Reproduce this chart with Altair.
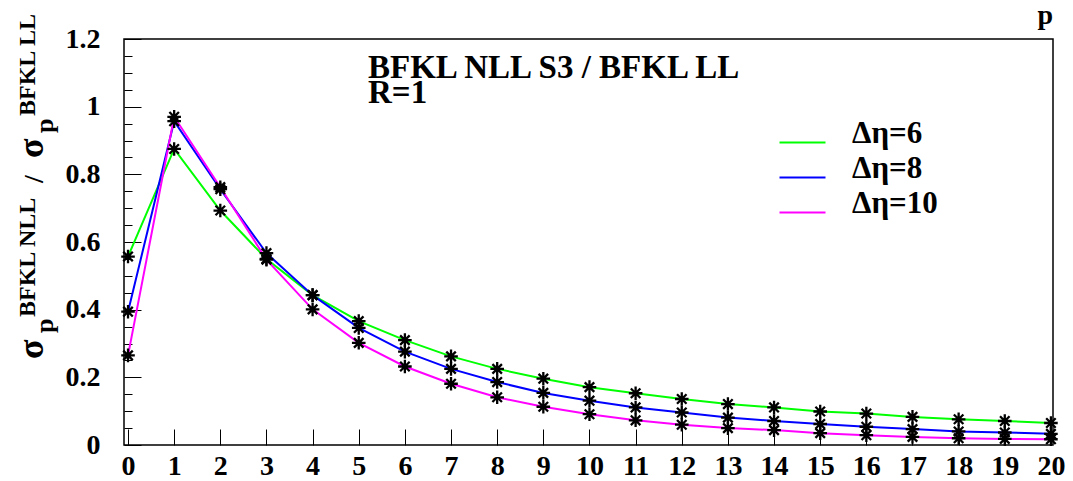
import altair as alt
import pandas as pd

# ---------------- data ----------------
p_values = list(range(21))
series_names = ["Δη=6", "Δη=8", "Δη=10"]
series_colors = ["#00ff00", "#0000ff", "#ff00ff"]
eta6 = [0.557, 0.875, 0.693, 0.550, 0.443, 0.366, 0.310, 0.262, 0.225, 0.196, 0.171,
        0.153, 0.136, 0.121, 0.111, 0.099, 0.093, 0.083, 0.076, 0.071, 0.065]
eta8 = [0.394, 0.957, 0.756, 0.567, 0.443, 0.346, 0.276, 0.225, 0.186, 0.154, 0.131,
        0.111, 0.096, 0.081, 0.071, 0.062, 0.054, 0.047, 0.040, 0.037, 0.033]
eta10 = [0.265, 0.970, 0.762, 0.548, 0.401, 0.302, 0.232, 0.181, 0.141, 0.113, 0.091,
         0.073, 0.060, 0.050, 0.044, 0.035, 0.029, 0.024, 0.020, 0.018, 0.017]
x_ticks = list(range(21))
y_major = [0, 0.2, 0.4, 0.6, 0.8, 1.0, 1.2]
y_minor = [0.05, 0.1, 0.15, 0.25, 0.3, 0.35, 0.45, 0.5, 0.55, 0.65, 0.7, 0.75,
           0.85, 0.9, 0.95, 1.05, 1.1, 1.15]
title_lines = ["BFKL NLL S3 / BFKL LL", "R=1"]
x_title = "p"

rows = []
for name, vals in zip(series_names, [eta6, eta8, eta10]):
    for p, v in zip(p_values, vals):
        rows.append({"p": p, "ratio": v, "series": name})
df = pd.DataFrame(rows)
anno = pd.DataFrame({"k": [0]})

FONT = "Liberation Serif, DejaVu Serif, serif"
W, H = 929, 406
xscale = alt.Scale(domain=[-0.087, 20.045], nice=False, zero=False)
yscale = alt.Scale(domain=[0, 1.2], nice=False)

label_style = dict(labelFont=FONT, labelFontWeight="bold", labelFontSize=28,
                   labelColor="black", labelOverlap=False, labelFlush=False,
                   labelBound=False, grid=False, domain=False, title=None)

lines = alt.Chart(df).mark_line(strokeWidth=2, clip=True).encode(
    x=alt.X("p:Q", scale=xscale,
            axis=alt.Axis(orient="bottom", values=x_ticks, ticks=False, tickSize=0,
                          labelPadding=7, format="d", **label_style)),
    y=alt.Y("ratio:Q", scale=yscale,
            axis=alt.Axis(orient="left", values=y_major, ticks=False, tickSize=0,
                          labelPadding=24, format=".1~f", **label_style)),
    color=alt.Color("series:N",
                    scale=alt.Scale(domain=series_names, range=series_colors),
                    legend=alt.Legend(orient="none", legendX=663, legendY=88, title=None,
                                      symbolType="M-2,0L2,0", symbolSize=529,
                                      symbolStrokeWidth=2, labelFont=FONT,
                                      labelFontWeight="bold", labelFontSize=31,
                                      labelColor="black", labelOffset=34,
                                      rowPadding=3, labelBaseline="alphabetic",
                                      padding=0)),
    detail="series:N",
)

tick_style = dict(labels=False, domain=False, grid=False, title=None,
                  tickColor="black", tickWidth=1)

star = "M-1,0L1,0M0,-1L0,1M-0.7,-0.7L0.7,0.7M-0.7,0.7L0.7,-0.7"
points = alt.Chart(df).mark_point(shape=star, filled=False, color="black",
                                  strokeWidth=2.3, size=185, opacity=1).encode(
    x=alt.X("p:Q", scale=xscale,
            axis=alt.Axis(orient="top", offset=-H, values=x_ticks, tickSize=16,
                          **tick_style)),
    y=alt.Y("ratio:Q", scale=yscale,
            axis=alt.Axis(orient="right", offset=-W, values=y_major, tickSize=17,
                          **tick_style)),
)

minor = alt.Chart(df).mark_point(opacity=0).encode(
    x=alt.X("p:Q", scale=xscale, axis=None),
    y=alt.Y("ratio:Q", scale=yscale,
            axis=alt.Axis(orient="right", offset=-W, values=y_minor, tickSize=8,
                          **tick_style)),
)


def txt(t, x, y, size, angle=0, align="left"):
    kw = dict(text=t, align=align, baseline="alphabetic", font=FONT,
              fontWeight="bold", fontSize=size, color="black")
    if angle:
        kw["angle"] = angle
    return alt.Chart(anno).mark_text(**kw).encode(x=alt.value(x), y=alt.value(y))


texts = [
    txt(title_lines[0], 244, 39, 33),
    txt(title_lines[1], 244, 64, 33),
    txt(x_title, 929, -15, 28, align="right"),
    # y-axis title: sigma_p^{BFKL NLL} / sigma_p^{BFKL LL}
    txt("σ", -81, 320, 36, angle=270),
    txt("p", -71, 294, 26, angle=270),
    txt("BFKL NLL", -89, 278, 24, angle=270),
    txt("/", -81, 140, 28, angle=270, align="center"),
    txt("σ", -81, 119, 36, angle=270),
    txt("p", -71, 94, 26, angle=270),
    txt("BFKL LL", -89, 77, 24, angle=270),
]

chart = alt.layer(lines, points, minor, *texts).resolve_axis(
    x="independent", y="independent"
).properties(
    width=W, height=H,
    autosize=alt.AutoSizeParams(type="none"),
    padding={"left": 124, "top": 39, "right": 20, "bottom": 36},
    background="white",
).configure_view(stroke="black", strokeWidth=1.5)

chart.save("out.html", embed_options={"renderer": "svg", "actions": False})
